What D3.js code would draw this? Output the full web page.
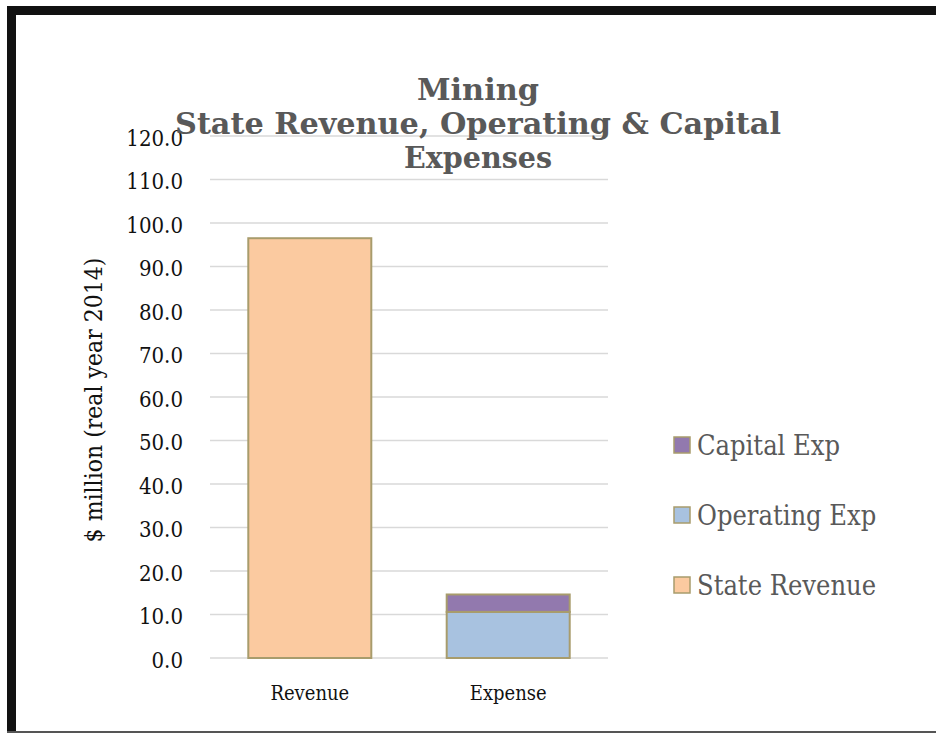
<!DOCTYPE html>
<html>
<head>
<meta charset="utf-8">
<script src="https://cdn.jsdelivr.net/npm/d3@7"></script>
<style>
  body { margin: 0; background: #fff; }
  svg { display: block; }
</style>
</head>
<body>
<div id="chart"></div>
<script>
// Chart data
const categories = ['Revenue', 'Expense'];
const seriesNames = ['State Revenue', 'Operating Exp', 'Capital Exp'];
const stateRevenue = [96.5, 0];
const operatingExp = [0, 10.6];
const capitalExp = [0, 4.0];
const yTicks = [0, 10, 20, 30, 40, 50, 60, 70, 80, 90, 100, 110, 120];
const titleLines = ['Mining', 'State Revenue, Operating & Capital', 'Expenses'];
const yLabel = '$ million (real year 2014)';

const colors = { 'State Revenue': '#fbcaa0', 'Operating Exp': '#a8c2e0', 'Capital Exp': '#9279ae' };

const W = 936, H = 733;
const font = '"DejaVu Serif", serif';

const svg = d3.select('#chart').append('svg')
    .attr('width', W)
    .attr('height', H);

// frame (thick black top/left, thin grey bottom)
svg.append('line').attr('x1', 11.5).attr('x2', 11.5).attr('y1', 6).attr('y2', H)
    .attr('stroke', '#111').attr('stroke-width', 9);
svg.append('line').attr('x1', 7).attr('x2', W).attr('y1', 10.5).attr('y2', 10.5)
    .attr('stroke', '#111').attr('stroke-width', 9);
svg.append('line').attr('x1', 7).attr('x2', W).attr('y1', 732).attr('y2', 732)
    .attr('stroke', '#555').attr('stroke-width', 2);

// table for d3.stack
const table = categories.map((c, i) => ({
    category: c,
    'State Revenue': stateRevenue[i],
    'Operating Exp': operatingExp[i],
    'Capital Exp': capitalExp[i]
}));
const stacked = d3.stack().keys(seriesNames)(table);

const x = d3.scaleBand()
    .domain(categories)
    .range([210, 608])
    .paddingInner(0.38)
    .paddingOuter(0.193);

const y = d3.scaleLinear()
    .domain([0, 120])
    .range([658, 136]);

// gridlines
svg.append('g')
    .selectAll('line')
    .data(yTicks)
    .enter()
    .append('line')
    .attr('x1', 210)
    .attr('x2', 608)
    .attr('y1', (d) => y(d))
    .attr('y2', (d) => y(d))
    .attr('stroke', '#d9d9d9')
    .attr('stroke-width', 1.5);

// y axis
const yAxis = d3.axisLeft(y).tickValues(yTicks).tickFormat(d3.format('.1f')).tickSize(0).tickPadding(27);
const gy = svg.append('g').attr('transform', 'translate(210,0)').call(yAxis);
gy.select('.domain').remove();
gy.selectAll('text')
    .attr('font-family', font)
    .attr('font-stretch', 'condensed')
    .attr('font-size', 22)
    .attr('dy', '0.42em')
    .attr('fill', '#111');

// x axis
const xAxis = d3.axisBottom(x).tickSize(0).tickPadding(28);
const gx = svg.append('g').attr('transform', 'translate(0,658)').call(xAxis);
gx.select('.domain').remove();
gx.selectAll('text')
    .attr('font-family', font)
    .attr('font-stretch', 'condensed')
    .attr('font-size', 20)
    .attr('fill', '#111');

// bars
svg.append('g')
    .selectAll('g')
    .data(stacked)
    .enter()
    .append('g')
    .attr('fill', (d) => colors[d.key])
    .selectAll('rect')
    .data((d) => d.filter((s) => s[1] - s[0] > 0))
    .enter()
    .append('rect')
    .attr('x', (d) => x(d.data.category))
    .attr('width', x.bandwidth())
    .attr('y', (d) => y(d[1]))
    .attr('height', (d) => y(d[0]) - y(d[1]))
    .attr('stroke', '#a89c6c')
    .attr('stroke-width', 2);

// y label
svg.append('text')
    .attr('transform', 'translate(102,400) rotate(-90)')
    .attr('text-anchor', 'middle')
    .attr('font-family', font)
    .attr('font-stretch', 'condensed')
    .attr('font-size', 24.5)
    .attr('fill', '#111')
    .text(yLabel);

// title
const titleWidths = [122, 606, 148];
svg.append('g')
    .selectAll('text')
    .data(titleLines)
    .enter()
    .append('text')
    .attr('x', 478)
    .attr('y', (d, i) => 100 + i * 33.8)
    .attr('text-anchor', 'middle')
    .attr('font-family', font)
    .attr('font-weight', 'bold')
    .attr('font-stretch', 'condensed')
    .attr('font-size', 29)
    .attr('textLength', (d, i) => titleWidths[i])
    .attr('lengthAdjust', 'spacingAndGlyphs')
    .attr('fill', '#595959')
    .text((d) => d);

// legend
const legendNames = seriesNames.slice().reverse();
const legendY = [445, 515, 585];
const lg = svg.append('g')
    .selectAll('g')
    .data(legendNames)
    .enter()
    .append('g')
    .attr('transform', (d, i) => `translate(674,${legendY[i]})`);
lg.append('rect')
    .attr('x', 0)
    .attr('y', -8)
    .attr('width', 16)
    .attr('height', 16)
    .attr('fill', (d) => colors[d])
    .attr('stroke', '#a89c6c')
    .attr('stroke-width', 1.5);
lg.append('text')
    .attr('x', 23)
    .attr('y', 10)
    .attr('font-family', font)
    .attr('font-stretch', 'condensed')
    .attr('font-size', 27)
    .attr('fill', '#595959')
    .text((d) => d);
</script>
</body>
</html>
